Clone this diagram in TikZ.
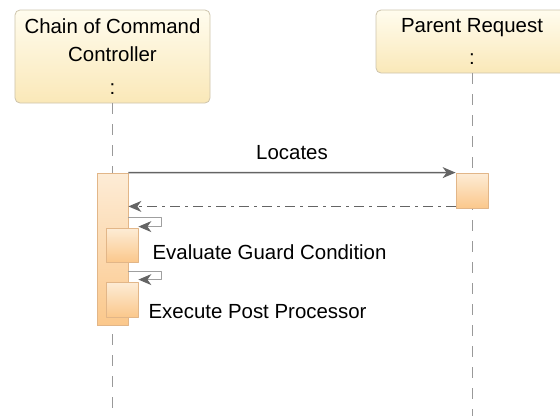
\documentclass[tikz,border=0pt]{standalone}
\usepackage{fontspec}
\setmainfont{Liberation Sans}
\usetikzlibrary{arrows.meta,positioning}
\definecolor{headtop}{RGB}{255,252,238}
\definecolor{headbot}{RGB}{250,232,184}
\definecolor{headline}{RGB}{205,196,172}
\definecolor{acttop}{RGB}{253,236,214}
\definecolor{actbot}{RGB}{251,200,140}
\definecolor{actline}{RGB}{226,182,136}
\definecolor{msggray}{RGB}{100,100,100}
\tikzset{
    head/.style={draw=headline, top color=headtop, bottom color=headbot, rounded corners=5bp,
        line width=0.8bp, align=center, inner sep=0pt, font=\fontsize{20.5}{28}\selectfont},
    act/.style={draw=actline, top color=acttop, bottom color=actbot, line width=0.8bp,
        inner sep=0pt, minimum width=31bp},
    life/.style={draw=gray!80, dash pattern=on 11bp off 10bp, line width=0.7bp},
    msg/.style={draw=msggray, line width=1.3bp, -{Stealth[length=13bp,width=11bp,inset=4bp]}},
    reply/.style={msg, dash pattern=on 10bp off 5bp on 3bp off 5bp},
    selfmsg/.style={draw=gray!75, line width=1bp, -{Stealth[length=13bp,width=11bp,inset=4bp,color=msggray]}},
    lab/.style={font=\fontsize{20.5}{24}\selectfont, inner sep=0pt}
}

\begin{document}
\begin{tikzpicture}[x=1bp,y=-1bp, line join=round]

\useasboundingbox (0,0) rectangle (560,416);

% lifeline heads
\node[head, minimum width=195bp, minimum height=93bp] (ctrl) at (112.5,56.5) {Chain of Command\\Controller\\[5pt]:};
\node[head, minimum width=192bp, minimum height=63bp] (req) at (472,41.5) {Parent Request\\[5pt]:};

\coordinate (ctrlend) at (112.5,416);
\coordinate (reqend) at (472,416);
\draw[life] (ctrl) -- (ctrlend);
\draw[life] (req) -- (reqend);

% activations
\node[act, minimum height=152bp] (ctrlact) at (112.5,249) {};
\node[act, minimum height=35bp, minimum width=32bp] (reqact) at (472,190.5) {};
\node[act, minimum height=34bp, minimum width=32bp] (guard) at (122,245) {};
\node[act, minimum height=35bp, minimum width=32bp] (post) at (122,299.5) {};

% messages
\draw[msg] (ctrlact.north east) -- node[lab, above=12bp] (locates) {Locates} (reqact.north west);
\draw[reply] ([yshift=2bp]reqact.south west) -- ([yshift=2bp]reqact.south west -| ctrlact.east);

\draw[selfmsg] ([yshift=10bp]guard.north east -| ctrlact.east) -- ++(33,0) |- ([yshift=1bp]guard.north east);
\draw[selfmsg] ([yshift=10bp]post.north east -| ctrlact.east) -- ++(33,0) |- ([yshift=2bp]post.north east);

\node[lab, right=14bp of guard, yshift=-7bp] (guardlab) {Evaluate Guard Condition};
\node[lab, right=10bp of post, yshift=-12.5bp] (postlab) {Execute Post Processor};

\end{tikzpicture}
\end{document}
